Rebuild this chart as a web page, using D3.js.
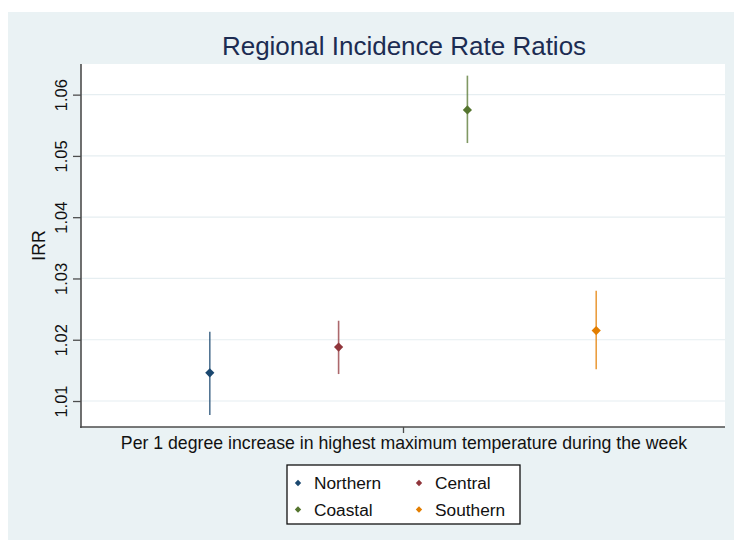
<!DOCTYPE html>
<html>
<head>
<meta charset="utf-8">
<script src="https://cdn.jsdelivr.net/npm/d3@7"></script>
<style>
  html, body { margin: 0; padding: 0; background: #ffffff; }
  svg { display: block; font-family: "Liberation Sans", Arial, sans-serif; }
</style>
</head>
<body>
<svg id="chart" width="734" height="542"></svg>
<script>
// ---- data ----
const regions = ["Northern", "Central", "Coastal", "Southern"];
const irr     = [1.0146, 1.0188, 1.0575, 1.0215];
const ciLow   = [1.0077, 1.0144, 1.0521, 1.0152];
const ciHigh  = [1.0213, 1.0231, 1.0631, 1.0280];
const colors  = ["#1a476f", "#90353b", "#55752f", "#e37e00"];
const yTicks  = [1.01, 1.02, 1.03, 1.04, 1.05, 1.06];
const titleText = "Regional Incidence Rate Ratios";
const xLabelText = "Per 1 degree increase in highest maximum temperature during the week";
const yLabelText = "IRR";

const svg = d3.select("#chart");
const plot = { left: 81, right: 725, top: 64, bottom: 427 };

// outer panel
svg.append("rect").attr("x", 8).attr("y", 12).attr("width", 726).attr("height", 528)
  .attr("fill", "#eaf2f4");
// plot area
svg.append("rect").attr("x", plot.left).attr("y", plot.top)
  .attr("width", plot.right - plot.left).attr("height", plot.bottom - plot.top)
  .attr("fill", "#ffffff");

const y = d3.scaleLinear().domain([1.00576, 1.0650]).range([plot.bottom, plot.top]);
const x = d3.scalePoint().domain(regions).range([plot.left, plot.right]).padding(1);

// grid
svg.append("g").selectAll("line").data(yTicks).join("line")
  .attr("x1", plot.left).attr("x2", plot.right)
  .attr("y1", d => y(d)).attr("y2", d => y(d))
  .attr("stroke", "#e6eef1").attr("stroke-width", 1.2);

// y axis
const yAxis = d3.axisLeft(y).tickValues(yTicks).tickFormat(d3.format(".2f")).tickSize(8).tickPadding(6);
const gy = svg.append("g").attr("transform", `translate(${plot.left},0)`).call(yAxis);
gy.select(".domain").attr("stroke", "#4d4d4d").attr("stroke-width", 1.6)
  .attr("d", `M0,${plot.top}V${plot.bottom + 1}`);
gy.selectAll(".tick line").attr("stroke", "#4d4d4d").attr("stroke-width", 1.3);
gy.selectAll(".tick text")
  .attr("font-size", 16.5).attr("fill", "#111")
  .attr("font-family", "'Liberation Sans', Arial, sans-serif")
  .attr("transform", "rotate(-90)")
  .attr("x", 0).attr("y", -14).attr("dy", 0)
  .attr("text-anchor", "middle");

// x axis
const xMid = (plot.left + plot.right) / 2;
const xAxisScale = d3.scalePoint().domain([""]).range([xMid, xMid]);
const gx = svg.append("g").attr("transform", `translate(0,${plot.bottom})`)
  .call(d3.axisBottom(xAxisScale).tickSize(6).tickFormat(""));
gx.select(".domain").attr("stroke", "#4d4d4d").attr("stroke-width", 1.6)
  .attr("d", `M${plot.left - 1},0H${plot.right}`);
gx.selectAll(".tick line").attr("stroke", "#4d4d4d").attr("stroke-width", 1.3);

// error bars
svg.append("g").selectAll("line").data(regions).join("line")
  .attr("x1", d => x(d)).attr("x2", d => x(d))
  .attr("y1", (d, i) => y(ciLow[i])).attr("y2", (d, i) => y(ciHigh[i]))
  .attr("stroke", (d, i) => colors[i]).attr("stroke-width", 1.6).attr("stroke-opacity", 0.75);

// markers
const diamond = r => `M0,${-r}L${r},0L0,${r}L${-r},0Z`;
svg.append("g").selectAll("path").data(regions).join("path")
  .attr("transform", (d, i) => `translate(${x(d)},${y(irr[i])})`)
  .attr("d", diamond(4.6))
  .attr("fill", (d, i) => colors[i]);

// title
svg.append("text").attr("x", xMid + 1).attr("y", 54.5).attr("text-anchor", "middle")
  .attr("font-size", 26).attr("fill", "#1c2c52").text(titleText);

// x label
svg.append("text").attr("x", xMid + 1).attr("y", 449).attr("text-anchor", "middle")
  .attr("font-size", 17.7).attr("fill", "#111").text(xLabelText);

// y label
svg.append("text").attr("transform", `translate(45,${(plot.top + plot.bottom) / 2}) rotate(-90)`)
  .attr("text-anchor", "middle").attr("font-size", 17.7).attr("fill", "#111").text(yLabelText);

// legend
const lg = svg.append("g");
lg.append("rect").attr("x", 287).attr("y", 465).attr("width", 233).attr("height", 59)
  .attr("fill", "#ffffff").attr("stroke", "#111").attr("stroke-width", 1.3);
const colX = [298, 419], rowY = [483, 509.5];
regions.forEach((r, i) => {
  const cx = colX[i % 2], cy = rowY[Math.floor(i / 2)];
  lg.append("path").attr("transform", `translate(${cx},${cy})`).attr("d", diamond(3.2))
    .attr("fill", colors[i]);
  lg.append("text").attr("x", cx + 16).attr("y", cy + 6.3).attr("font-size", 17.3)
    .attr("fill", "#111").text(r);
});
</script>
</body>
</html>
